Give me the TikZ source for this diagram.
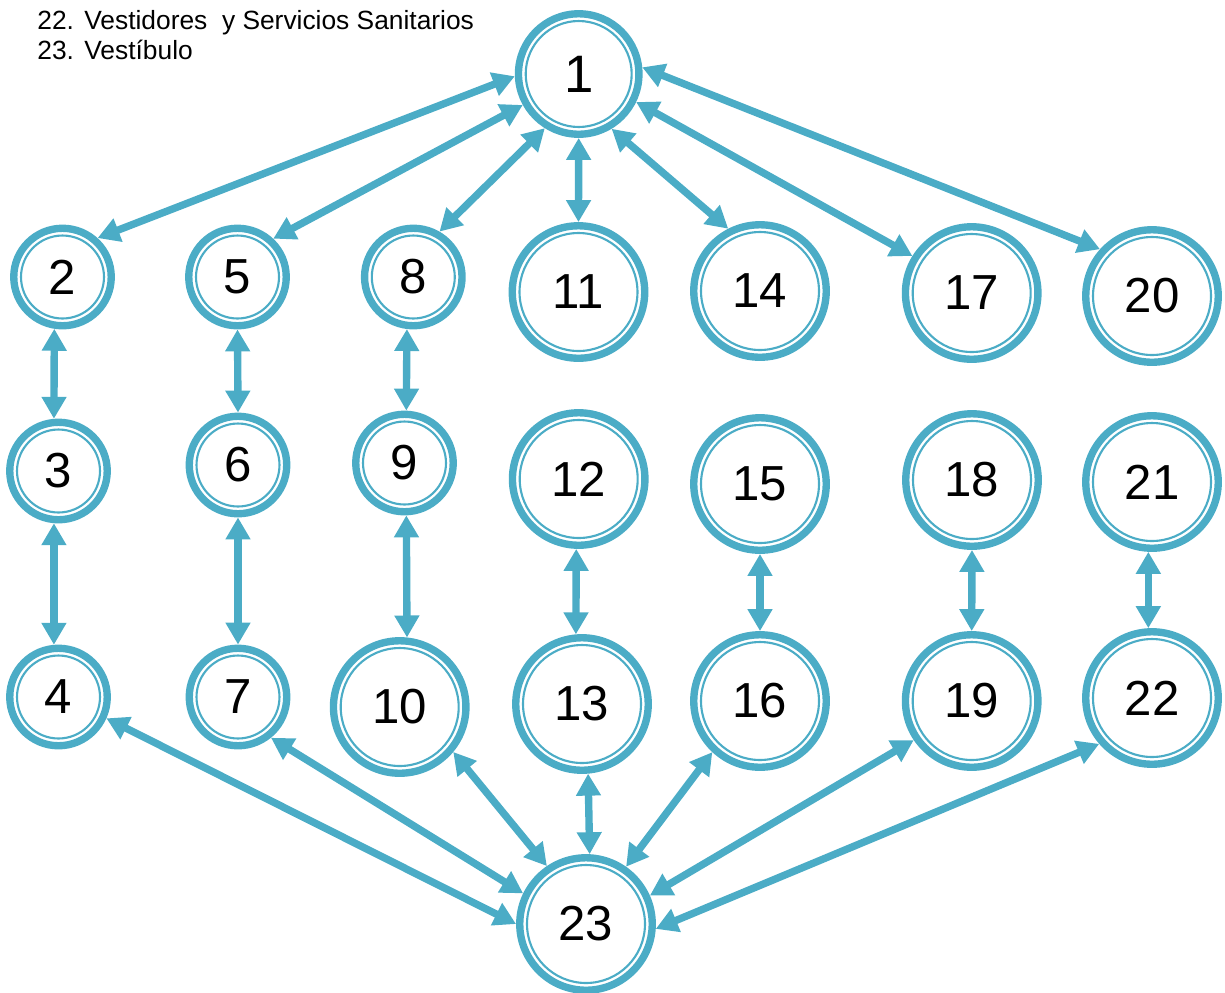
\documentclass[tikz,border=0pt]{standalone}
\usepackage{fontspec}
\setmainfont{Liberation Sans}
\usetikzlibrary{arrows.meta}
\definecolor{aq}{RGB}{75,172,198}
\begin{document}
\begin{tikzpicture}[x=0.02cm,y=-0.02cm,
  ring/.style 2 args={circle, draw=aq, line width=4.2pt, inner sep=0pt, minimum size=#1,
    font=\fontsize{28}{30}\selectfont,
    path picture={\draw[aq, line width=1.2pt] (path picture bounding box.center) circle[radius=#2];}},
  big/.style={ring={2.65cm}{1.18cm}},
  small/.style={ring={1.95cm}{0.83cm}},
  top/.style={ring={2.41cm}{1.06cm}, font=\fontsize{30}{32}\selectfont},
  link/.style={draw=aq, line width=4.2pt, {Triangle[width=13.5pt,length=12.5pt]}-{Triangle[width=13.5pt,length=12.5pt]}},
  legend/.style={anchor=base west, inner sep=0pt, font=\fontsize{15}{17}\selectfont}
]
\useasboundingbox (0,0) rectangle (1225,992);

\node[legend] (t22) at (37,29) {\makebox[0.94cm][l]{22.}Vestidores\ \ y Servicios Sanitarios};
\node[legend] (t23) at (37,59) {\makebox[0.94cm][l]{23.}Vestíbulo};

\node[top] (n1) at (578.7,74) {1};

\node[small] (n2) at (62.5,277) {2};
\node[small] (n5) at (237.5,277) {5};
\node[small] (n8) at (413.3,277) {8};
\node[big] (n11) at (578.5,292) {11};
\node[big] (n14) at (760,291) {14};
\node[big] (n17) at (971.7,293) {17};
\node[big] (n20) at (1152,296) {20};

\node[small] (n3) at (58.5,471) {3};
\node[small] (n6) at (238,465) {6};
\node[small] (n9) at (404.5,463) {9};
\node[big] (n12) at (578.7,479) {12};
\node[big] (n15) at (760,484) {15};
\node[big] (n18) at (972,480) {18};
\node[big] (n21) at (1152,482) {21};

\node[small] (n4) at (58.5,697) {4};
\node[small] (n7) at (238,697) {7};
\node[big] (n10) at (399.7,707) {10};
\node[big] (n13) at (582,704) {13};
\node[big] (n16) at (760,701) {16};
\node[big] (n19) at (971.7,701) {19};
\node[big] (n22) at (1152,698) {22};

\node[big] (n23) at (586,924) {23};

% top fan
\draw[link] (n1.182) -- (n2.48);
\draw[link] (n1.209) -- (n5.47);
\draw[link] (n1.238) -- (n8.60);
\draw[link] (n1.south) -- (n11.north);
\draw[link] (n1.301) -- (n14.117);
\draw[link] (n1.334) -- (n17.148);
\draw[link] (n1.6) -- (n20.138);

% columns
\draw[link] (n2.261) -- (n3.95);
\draw[link] (n3.265) -- (n4.95);
\draw[link] (n5.south) -- (n6.north);
\draw[link] (n6.south) -- (n7.north);
\draw[link] (n8.263) -- (n9.88);
\draw[link] (n9.272) -- (n10.84);
\draw[link] (n12.268) -- (n13.95);
\draw[link] (n15.south) -- (n16.north);
\draw[link] (n18.south) -- (n19.north);
\draw[link] (n21.267) -- (n22.93);

% bottom fan
\draw[link] (n4.336) -- (n23.180);
\draw[link] (n7.309) -- (n23.154);
\draw[link] (n10.320) -- (n23.124);
\draw[link] (n13.275) -- (n23.87);
\draw[link] (n16.227) -- (n23.55);
\draw[link] (n19.214) -- (n23.24);
\draw[link] (n22.221) -- (n23.356);
\end{tikzpicture}
\end{document}
